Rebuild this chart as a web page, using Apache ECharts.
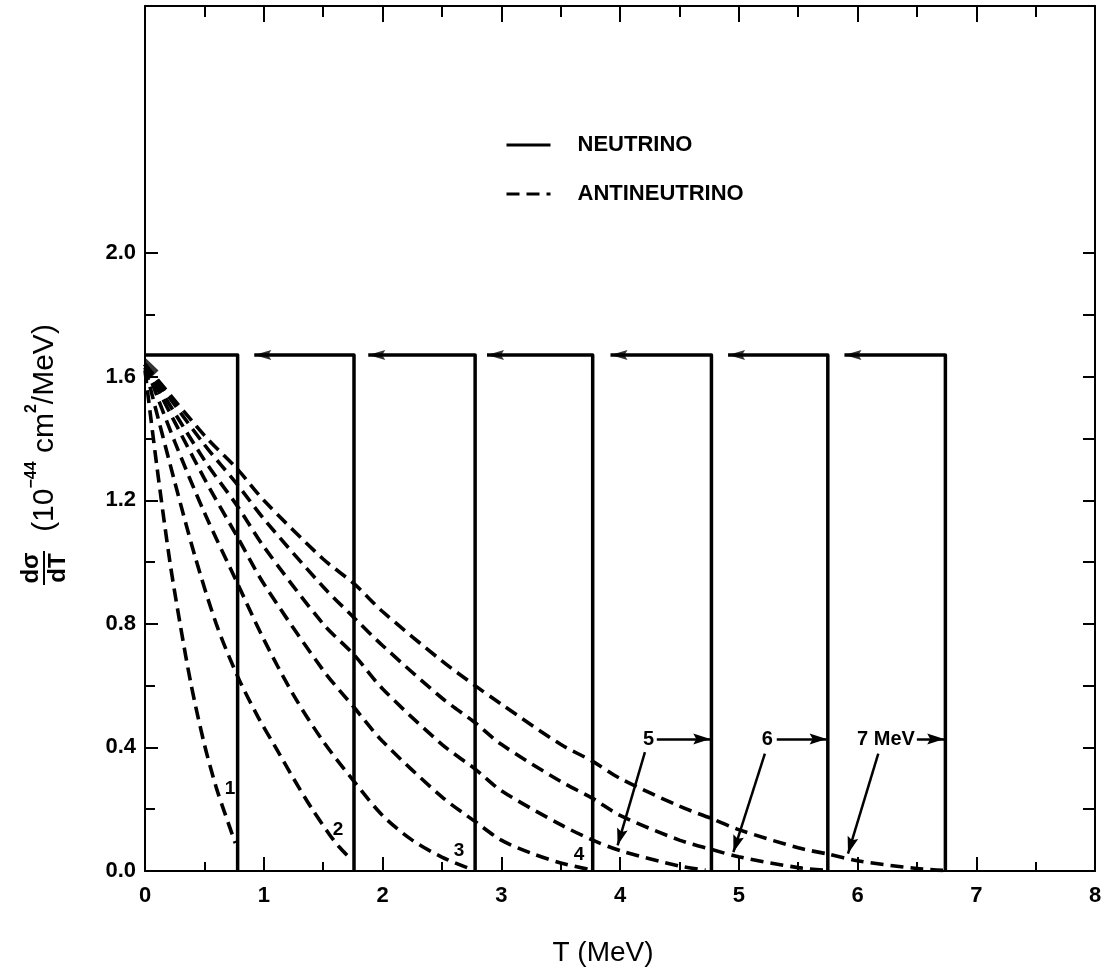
<!DOCTYPE html>
<html>
<head>
<meta charset="utf-8">
<script src="https://cdn.jsdelivr.net/npm/echarts@6.0.0/dist/echarts.min.js"></script>
<style>html,body{margin:0;padding:0;background:#fff}#c{width:1116px;height:974px}</style>
</head>
<body>
<div id="c"></div>
<script>
// ---------- data ----------
const xTickLabels = ['0', '1', '2', '3', '4', '5', '6', '7', '8'];
const yMajorTicks = [0, 0.4, 0.8, 1.2, 1.6, 2.0];
const yMinorTicks = [0.2, 0.6, 1.0, 1.4, 1.8];
const yRightTicks = [0, 0.2, 0.4, 0.6, 0.8, 1.0, 1.2, 1.4, 1.6, 1.8, 2.0];

// neutrino: flat spectrum up to T_max, arrows mark where each horizontal segment starts
const neutrinoLevel = 1.67;
const neutrinoStart = [0, 0.92, 1.88, 2.88, 3.92, 4.91, 5.89];
const neutrinoTmax = [0.78, 1.76, 2.78, 3.77, 4.77, 5.75, 6.74];

// antineutrino curves (E = 1 ... 7 MeV)
const anti1 = [[0,1.62],[0.1,1.31],[0.21,1.0],[0.3,0.79],[0.39,0.60],[0.5,0.41],[0.6,0.27],[0.67,0.19],[0.76,0.09]];
const anti2 = [[0,1.63],[0.25,1.26],[0.42,1.02],[0.6,0.80],[0.78,0.63],[0.95,0.50],[1.1,0.40],[1.25,0.30],[1.4,0.205],[1.55,0.12],[1.63,0.08],[1.73,0.04]];
const anti3 = [[0,1.64],[0.25,1.39],[0.5,1.16],[0.78,0.93],[1.0,0.75],[1.25,0.57],[1.5,0.42],[1.76,0.29],[2.0,0.18],[2.25,0.10],[2.5,0.045],[2.72,0.01]];
const anti4 = [[0,1.64],[0.5,1.27],[0.78,1.08],[1.0,0.93],[1.5,0.65],[1.76,0.53],[2.0,0.42],[2.5,0.24],[2.78,0.16],[3.0,0.10],[3.25,0.058],[3.5,0.026],[3.74,0.005]];
const anti5 = [[0,1.64],[0.5,1.33],[0.78,1.18],[1.0,1.05],[1.5,0.80],[1.76,0.70],[2.0,0.59],[2.5,0.41],[2.78,0.33],[3.0,0.26],[3.5,0.15],[3.77,0.10],[4.0,0.066],[4.5,0.016],[4.72,0.003]];
const anti6 = [[0,1.64],[0.5,1.38],[0.78,1.25],[1.0,1.14],[1.5,0.92],[1.76,0.82],[2.0,0.73],[2.5,0.56],[2.78,0.48],[3.0,0.41],[3.5,0.29],[3.77,0.235],[4.0,0.18],[4.5,0.10],[4.77,0.07],[5.0,0.046],[5.5,0.011],[5.72,0.003]];
const anti7 = [[0,1.64],[0.5,1.41],[0.78,1.30],[1.0,1.20],[1.5,1.01],[1.76,0.93],[2.0,0.84],[2.5,0.68],[2.78,0.60],[3.0,0.54],[3.5,0.41],[3.77,0.355],[4.0,0.30],[4.5,0.21],[4.77,0.17],[5.0,0.134],[5.5,0.075],[5.75,0.055],[6.0,0.033],[6.5,0.008],[6.72,0.002]];
const antiCurves = [anti1, anti2, anti3, anti4, anti5, anti6, anti7];

// convergence wedge near T = 0
const wedgePoint = [[0.055, 1.62]];

// curve number labels
const curveLabels = ['1', '2', '3', '4'];
const curveLabelPos = [[0.716, 0.267], [1.625, 0.132], [2.645, 0.067], [3.655, 0.051]];

// energy labels with arrows
const energyLabels = ['5', '6', '7 MeV'];
const energyLabelPos = [[4.24, 0.425], [5.24, 0.425], [6.24, 0.425]];
const rightArrowFrom = [[4.31, 0.427], [5.32, 0.427], [6.50, 0.427]];
const rightArrowTo = [[4.76, 0.427], [5.74, 0.427], [6.73, 0.427]];
const diagArrowFrom = [[4.21, 0.385], [5.22, 0.38], [6.175, 0.38]];
const diagArrowTo = [[3.98, 0.083], [4.955, 0.061], [5.92, 0.056]];

// ---------- chart ----------
const FONT = '"Liberation Sans", Arial, sans-serif';
const BLACK = '#000';
const axisLineStyle = { color: BLACK, width: 2 };
// tip at the centre of the bounding box (extra moveTo balances the box)
const ARROW_LEFT = 'path://M0,0 L17,-5 L14,0 L17,5 Z M-17,0';
const ARROW_UP = 'path://M0,0 L5.5,17 L0,14 L-5.5,17 Z M0,-17';

const labelBase = { show: true, position: 'inside', formatter: '{b}', color: BLACK,
                    fontFamily: FONT, fontWeight: 'bold', textBorderWidth: 0, opacity: 1 };

const series = [];
neutrinoTmax.forEach((tm, i) => {
  series.push({
    type: 'line', name: 'NEUTRINO',
    data: [[neutrinoStart[i], neutrinoLevel], [tm, neutrinoLevel], [tm, 0]],
    symbol: 'none', silent: true, z: 3,
    itemStyle: { color: BLACK },
    lineStyle: { color: BLACK, width: 3.5, join: 'round' }
  });
});
antiCurves.forEach(c => {
  series.push({
    type: 'line', name: 'ANTINEUTRINO', data: c,
    symbol: 'none', smooth: 0.3, silent: true, z: 2,
    itemStyle: { color: BLACK },
    lineStyle: { color: BLACK, width: 3.6, type: [13, 7] }
  });
});
series.push({
  type: 'scatter', name: 'arrowheads', silent: true, z: 4,
  data: neutrinoStart.slice(1).map(t => [t, neutrinoLevel]),
  symbol: ARROW_LEFT, symbolSize: [34, 10],
  itemStyle: { color: BLACK }
});
series.push({
  type: 'scatter', name: 'wedge', silent: true, z: 4,
  data: wedgePoint,
  symbol: 'path://M0,0 L1,0.5 L0,1 Z', symbolSize: [14, 27],
  itemStyle: { color: BLACK }
});
series.push({
  type: 'scatter', name: 'curveLabels', silent: true, z: 5,
  data: curveLabels.map((t, i) => ({ name: t, value: curveLabelPos[i] })),
  symbolSize: 0, itemStyle: { color: BLACK },
  label: Object.assign({}, labelBase, { fontSize: 19 })
});
const arrowLines = [];
rightArrowFrom.forEach((p, i) => arrowLines.push([{ coord: p }, { coord: rightArrowTo[i] }]));
diagArrowFrom.forEach((p, i) => arrowLines.push([{ coord: p }, { coord: diagArrowTo[i] }]));
series.push({
  type: 'scatter', name: 'energyLabels', silent: true, z: 5,
  data: energyLabels.map((t, i) => ({ name: t, value: energyLabelPos[i] })),
  symbolSize: 0, itemStyle: { color: BLACK },
  label: Object.assign({}, labelBase, { fontSize: 20 }),
  markLine: {
    silent: true, animation: false,
    symbol: ['none', ARROW_UP], symbolSize: [11, 34],
    label: { show: false },
    lineStyle: { color: BLACK, width: 2.5, type: 'solid' },
    emphasis: { disabled: true },
    data: arrowLines
  }
});

const option = {
  animation: false,
  backgroundColor: '#fff',
  grid: { left: 145, right: 21, top: 6, bottom: 103 },
  legend: {
    orient: 'vertical', left: 500, top: 129,
    itemWidth: 44, itemHeight: 14, itemGap: 27,
    selectedMode: false,
    data: ['NEUTRINO', 'ANTINEUTRINO'],
    itemStyle: { opacity: 0, borderWidth: 0 },
    lineStyle: { width: 3, opacity: 1 },
    textStyle: { color: BLACK, fontFamily: FONT, fontSize: 22, fontWeight: 'bold', padding: [0, 0, 0, 22] }
  },
  xAxis: [
    {
      type: 'value', min: 0, max: 8, interval: 1, position: 'bottom',
      axisLine: { show: true, onZero: false, lineStyle: axisLineStyle },
      axisTick: { show: true, inside: true, length: 14, lineStyle: axisLineStyle },
      minorTick: { show: true, splitNumber: 2, length: 9, lineStyle: axisLineStyle },
      axisLabel: { margin: 14, color: BLACK, fontFamily: FONT, fontSize: 22, fontWeight: 'bold',
                   formatter: v => xTickLabels[Math.round(v)] },
      splitLine: { show: false },
      name: 'T (MeV)', nameLocation: 'middle', nameGap: 68,
      nameTextStyle: { color: BLACK, fontFamily: FONT, fontSize: 28, padding: [0, 34, 0, 0] }
    },
    {
      type: 'value', min: 0, max: 8, interval: 1, position: 'top',
      axisLine: { show: true, onZero: false, lineStyle: axisLineStyle },
      axisTick: { show: true, inside: true, length: 16, lineStyle: axisLineStyle },
      minorTick: { show: true, splitNumber: 2, length: 11, lineStyle: axisLineStyle },
      axisLabel: { show: false },
      splitLine: { show: false }
    }
  ],
  yAxis: [
    {
      type: 'value', min: 0, max: 2.8, position: 'left',
      axisLine: { show: true, onZero: false, lineStyle: axisLineStyle },
      axisTick: { show: true, inside: true, length: 13, customValues: yMajorTicks, lineStyle: axisLineStyle },
      axisLabel: { customValues: yMajorTicks, margin: 9, color: BLACK, fontFamily: FONT, fontSize: 22,
                   fontWeight: 'bold', formatter: v => v.toFixed(1) },
      splitLine: { show: false }
    },
    {
      type: 'value', min: 0, max: 2.8, position: 'left',
      axisLine: { show: false, onZero: false },
      axisTick: { show: true, inside: true, length: 10, customValues: yMinorTicks, lineStyle: axisLineStyle },
      axisLabel: { show: false },
      splitLine: { show: false }
    },
    {
      type: 'value', min: 0, max: 2.8, position: 'right',
      axisLine: { show: true, onZero: false, lineStyle: axisLineStyle },
      axisTick: { show: true, inside: true, length: 12, customValues: yRightTicks, lineStyle: axisLineStyle },
      axisLabel: { show: false },
      splitLine: { show: false }
    }
  ],
  graphic: [
    {
      type: 'group', x: 44, y: 568, rotation: Math.PI / 2, silent: true,
      children: [
        { type: 'text', x: 0, y: -13, style: { text: 'dσ', fill: BLACK, font: 'bold 24px ' + FONT, align: 'center', verticalAlign: 'middle' } },
        { type: 'line', shape: { x1: -17, y1: 0, x2: 17, y2: 0 }, style: { stroke: BLACK, lineWidth: 2 } },
        { type: 'text', x: 0, y: 14, style: { text: 'dT', fill: BLACK, font: 'bold 24px ' + FONT, align: 'center', verticalAlign: 'middle' } }
      ]
    },
    {
      type: 'text', x: 42, y: 428, rotation: Math.PI / 2, silent: true,
      style: {
        text: '{n|(10}{s|−44}{n| cm}{s|2}{n|/MeV)}',
        align: 'center', verticalAlign: 'middle',
        rich: {
          n: { fontFamily: FONT, fontSize: 30, fill: BLACK, color: BLACK, lineHeight: 36, verticalAlign: 'bottom' },
          s: { fontFamily: FONT, fontSize: 16, fontWeight: 'bold', fill: BLACK, color: BLACK, lineHeight: 36, verticalAlign: 'top' }
        }
      }
    }
  ],
  series: series
};

const chart = echarts.init(document.getElementById('c'), null, { renderer: 'canvas' });
chart.setOption(option);
</script>
</body>
</html>
